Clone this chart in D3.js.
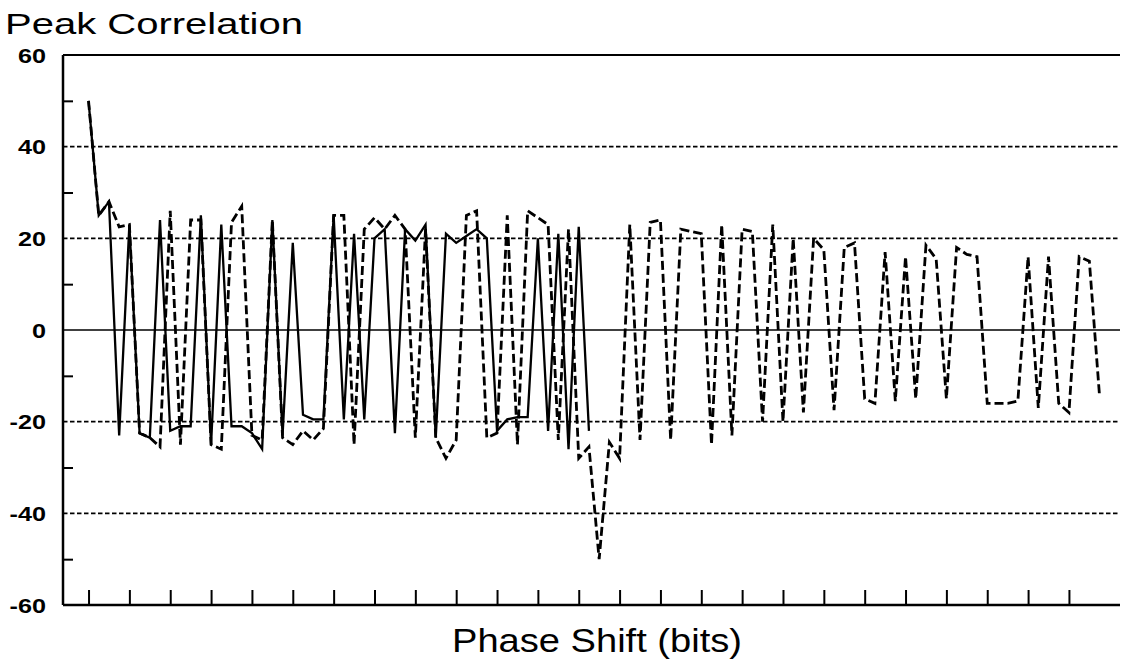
<!DOCTYPE html>
<html>
<head>
<meta charset="utf-8">
<script src="https://cdn.jsdelivr.net/npm/d3@7"></script>
<style>
  html, body { margin: 0; padding: 0; background: #fff; }
  svg { display: block; }
  text { font-family: "Liberation Sans", Arial, Helvetica, sans-serif; fill: #000; }
</style>
</head>
<body>
<svg id="chart" width="1124" height="665"></svg>
<script>
// ---- data ----
const title = "Peak Correlation";
const xLabel = "Phase Shift (bits)";
const yLabelValues = [60, 40, 20, 0, -20, -40, -60];
const yGridValues = [40, 20, -20, -40];
const yMinorTicks = [50, 30, 10, -10, -30, -50];
const xTickValues = [0, 4, 8, 12, 16, 20, 24, 28, 32, 36, 40, 44, 48, 52, 56, 60, 64, 68, 72, 76, 80, 84, 88, 92, 96];

// solid series (phase shifts 0..49)
const solidSeries = [
  50, 25, 28, -23, 23, -22.5, -23.5, 24, -22, -21,
  -21, 25, -25, 23, -21, -21, -22.5, -26, 24, -23,
  19, -18.5, -19.5, -19.5, 25, -19.5, 21, -19.5, 20, 22,
  -22.5, 22, 19.5, 23, -23.5, 21, 19, 20.5, 22, 20,
  -22, -19.5, -19, -19, 20, -22, 21, -26, 22.5, -22
];
// dashed series (phase shifts 0..99)
const dashedSeries = [
  50, 25, 28, 22.5, 23, -22.5, -23.5, -25.5, 26, -25,
  24, 24, -25, -26, 23.5, 27, -23, -24, 24, -23.5,
  -25, -22, -24, -21.5, 25, 25, -25, 22, 24.5, 22,
  25, 22, -23.5, 22, -23.5, -28, -24, 25, 26, -23.5,
  -22.5, 25, -25, 26, 24.5, 23, -24, 22, -28, -25.5,
  -50, -24.5, -28, 23, -24, 23.5, 24, -24, 22, 21.5,
  21, -25, 23, -23, 22, 21.5, -20, 23, -20, 20,
  -18, 20, 17.5, -17.5, 18, 19, -15, -16, 17, -15.5,
  16, -15, 18.5, 15.5, -15, 18, 16.5, 16, -16, -16,
  -16, -15.5, 16, -17, 16, -16, -18, 16, 15, -14.5
];

// ---- layout ----
const svg = d3.select("#chart");
const plotLeft = 63, plotRight = 1120, plotTop = 55, plotBottom = 605;

const x = d3.scaleLinear().domain([-2.5, 101]).range([plotLeft, plotRight]);
const y = d3.scaleLinear().domain([-60, 60]).range([plotBottom, plotTop]);

// grid lines
svg.append("g").selectAll("line").data(yGridValues).join("line")
  .attr("x1", plotLeft).attr("x2", plotRight)
  .attr("y1", d => y(d)).attr("y2", d => y(d))
  .attr("stroke", "#000").attr("stroke-width", 1.7)
  .attr("stroke-dasharray", "4.5,2.5");

// zero line
svg.append("line")
  .attr("x1", plotLeft).attr("x2", plotRight)
  .attr("y1", y(0)).attr("y2", y(0))
  .attr("stroke", "#000").attr("stroke-width", 1.7);

// top border
svg.append("line")
  .attr("x1", plotLeft).attr("x2", plotRight)
  .attr("y1", y(60)).attr("y2", y(60))
  .attr("stroke", "#000").attr("stroke-width", 2);

// x axis (ticks pointing up, no labels)
const xAxis = d3.axisBottom(x).tickValues(xTickValues).tickSize(-15).tickFormat("").tickSizeOuter(0);
const gx = svg.append("g").attr("transform", `translate(0,${plotBottom})`).call(xAxis);
gx.select(".domain").attr("stroke", "#000").attr("stroke-width", 2.5).attr("d", `M${plotLeft},0H${plotRight}`);
gx.selectAll(".tick line").attr("stroke", "#000").attr("stroke-width", 2);

// y axis (minor ticks inward)
const yAxis = d3.axisLeft(y).tickValues(yMinorTicks).tickSize(-10).tickFormat("").tickSizeOuter(0);
const gy = svg.append("g").attr("transform", `translate(${plotLeft},0)`).call(yAxis);
gy.select(".domain").attr("stroke", "#000").attr("stroke-width", 2.5).attr("d", `M0,${plotTop}V${plotBottom}`);
gy.selectAll(".tick line").attr("stroke", "#000").attr("stroke-width", 2);

// y labels
svg.append("g").selectAll("text").data(yLabelValues).join("text")
  .attr("transform", d => `translate(46,${y(d) + 7.5}) scale(1.2,1)`)
  .attr("text-anchor", "end")
  .attr("font-size", 21).attr("font-weight", "bold")
  .text(d => d);

// lines
const line = d3.line().x((d, i) => x(i)).y(d => y(d));
svg.append("path").datum(dashedSeries)
  .attr("d", line).attr("fill", "none")
  .attr("stroke", "#000").attr("stroke-width", 2.8)
  .attr("stroke-dasharray", "9,4").attr("stroke-linejoin", "miter");
svg.append("path").datum(solidSeries)
  .attr("d", line).attr("fill", "none")
  .attr("stroke", "#000").attr("stroke-width", 2.3)
  .attr("stroke-linejoin", "miter");

// title
svg.append("text")
  .attr("x", 5).attr("y", 34)
  .attr("font-size", 30)
  .attr("textLength", 298).attr("lengthAdjust", "spacingAndGlyphs")
  .text(title);

// x label
svg.append("text")
  .attr("x", 452).attr("y", 652)
  .attr("font-size", 33)
  .attr("textLength", 290).attr("lengthAdjust", "spacingAndGlyphs")
  .text(xLabel);
</script>
</body>
</html>
